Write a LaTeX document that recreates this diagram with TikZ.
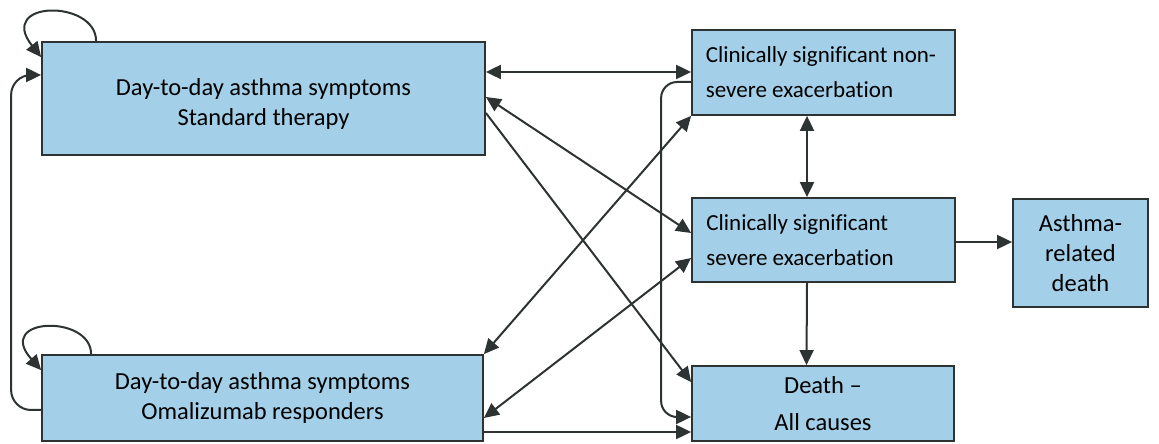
\documentclass[tikz,border=0pt]{standalone}
\usepackage{fontspec}
\setmainfont{Carlito}[Ligatures=NoCommon]
\usetikzlibrary{arrows.meta}
\definecolor{boxfill}{RGB}{163,208,232}
\definecolor{linecol}{RGB}{45,50,50}
\tikzset{
  statebox/.style={draw=linecol, line width=1.8pt, fill=boxfill, inner sep=0pt, font=\fontsize{24.5}{30}\selectfont},
  exbox/.style={statebox, font=\fontsize{23}{30}\selectfont, align=left},
  conn/.style={draw=linecol, line width=2pt, -{Triangle[length=15pt,width=14pt]}},
  dconn/.style={draw=linecol, line width=2pt, {Triangle[length=15pt,width=14pt]}-{Triangle[length=15pt,width=14pt]}}
}
\begin{document}
\begin{tikzpicture}[x=1pt,y=1pt]
\useasboundingbox (0,0) rectangle (1159,444);
% boxes
\node[statebox, minimum width=443pt, minimum height=113pt, align=center] (A) at (263.5,345.5) {\rule{0pt}{28pt}Day-to-day asthma symptoms\\Standard therapy};
\node[statebox, minimum width=441pt, minimum height=86pt, align=center] (B) at (262.5,46) {Day-to-day asthma symptoms\\Omalizumab responders};
\node[exbox, minimum width=263pt, minimum height=85pt] (C) at (823.5,371.5) {Clinically significant non-\hspace*{5pt}\\[5pt]severe exacerbation};
\node[exbox, minimum width=263pt, minimum height=84pt] (D) at (823.5,204) {Clinically significant\\[5pt]severe exacerbation\hspace*{47pt}};
\node[statebox, minimum width=262pt, minimum height=75pt, align=center] (E) at (823,40.5) {Death --\\[7pt]All causes};
\node[statebox, minimum width=135pt, minimum height=108pt, align=center] (F) at (1080.5,191) {Asthma-\\related\\death};
% connectors
\draw[dconn] ([yshift=26.5pt]A.east) -- ([yshift=0.5pt]C.west);
\draw[conn, rounded corners=16pt] ([yshift=-9.5pt]C.west) -| ([xshift=-30pt,yshift=-13.5pt]E.west) -- ([yshift=-13.5pt]E.west);
\draw[dconn] ([yshift=1.5pt]A.east) -- ([yshift=7pt]D.west);
\draw[conn] ([yshift=-14.5pt]A.east) -- ([yshift=21.5pt]E.west);
\draw[dconn] (B.north east) -- (C.south west);
\draw[dconn] ([yshift=-20pt]B.east) -- ([yshift=-18pt]D.west);
\draw[conn] ([yshift=-34pt]B.east) -- ([yshift=-28.5pt]E.west);
\draw[dconn] ([xshift=-16.5pt]C.south) -- ([xshift=-16.5pt]D.north);
\draw[conn] ([xshift=-16.5pt]D.south) -- ([xshift=-16.5pt]E.north);
\draw[conn] ([yshift=-2pt]D.east) -- ([yshift=11pt]F.west);
% self loops and return
\draw[conn] ([xshift=55pt]A.north west) .. controls +(0,42) and (-4,444) .. ([yshift=-16pt]A.north west);
\draw[conn] ([xshift=50pt]B.north west) .. controls +(0,40) and (-6,127) .. ([yshift=-16pt]B.north west);
\draw[conn, rounded corners=20pt] ([yshift=-12pt]B.west) -| ([xshift=-30pt,yshift=23.5pt]A.west) -- ([yshift=23.5pt]A.west);
\end{tikzpicture}
\end{document}
